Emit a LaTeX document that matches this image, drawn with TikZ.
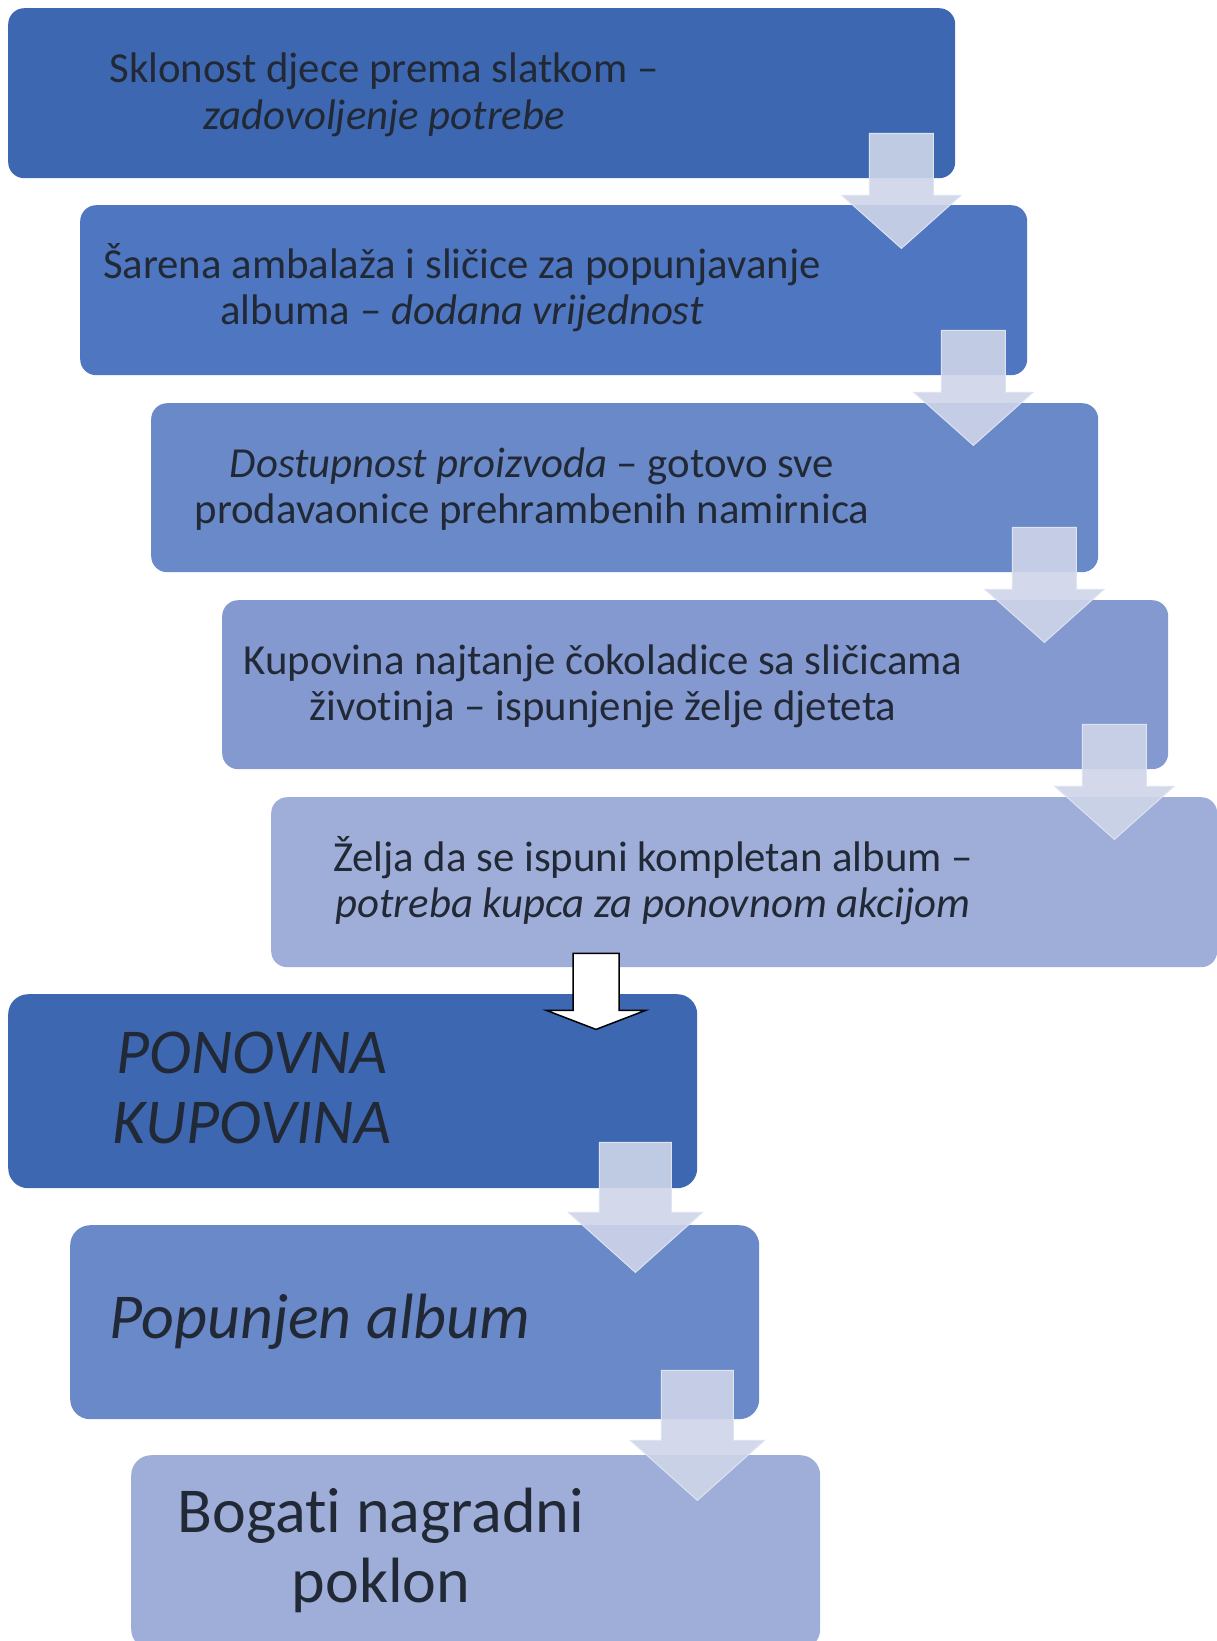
\documentclass[tikz,border=0pt]{standalone}
\usepackage{fontspec}
\setmainfont{Carlito}[Ligatures=NoCommon]
\usetikzlibrary{calc}
\definecolor{cA}{RGB}{61,104,177}
\definecolor{cB}{RGB}{79,118,192}
\definecolor{cC}{RGB}{106,137,200}
\definecolor{cD}{RGB}{133,153,209}
\definecolor{cE}{RGB}{159,174,216}
\definecolor{txt}{RGB}{34,41,54}
\definecolor{arrfill}{RGB}{206,213,233}
\definecolor{arredge}{RGB}{222,227,241}
\tikzset{
  box/.style={rectangle, rounded corners=16pt, inner sep=0pt, anchor=north west, draw=none},
  bigbox/.style={box, rounded corners=20pt},
  small/.style={anchor=base, inner sep=0pt, text=txt, font=\fontsize{42.8}{46.5}\selectfont},
  big/.style={anchor=base, inner sep=0pt, text=txt, font=\fontsize{64}{70}\selectfont},
  pics/barrow/.style n args={4}{code={
    \path[fill=arrfill, fill opacity=0.9, draw=arredge, line width=1pt, line join=miter]
      (-#1,0) -- (#1,0) -- (#1,#3) -- (#2,#3) -- (0,#3+#4) -- (-#2,#3) -- (-#1,#3) -- cycle;
  }},
  pics/warrow/.style n args={4}{code={
    \path[fill=white, draw=black, line width=1.5pt, line join=miter]
      (-#1,0) -- (#1,0) -- (#1,#3) -- (#2,#3) -- (0,#3+#4) -- (-#2,#3) -- (-#1,#3) -- cycle;
  }}
}
\begin{document}
\begin{tikzpicture}[x=1pt, y=-1pt]
\useasboundingbox (0,0) rectangle (1217,1641);
\begin{scope}
\clip (0,0) rectangle (1217,1641);
% boxes
\node[box, fill=cA, minimum width=947pt, minimum height=170pt] (b1) at (8,8) {};
\node[box, fill=cB, minimum width=947pt, minimum height=170pt] (b2) at (80,205) {};
\node[box, fill=cC, minimum width=947pt, minimum height=169pt] (b3) at (151,403) {};
\node[box, fill=cD, minimum width=946pt, minimum height=169pt] (b4) at (222,600) {};
\node[box, fill=cE, minimum width=946pt, minimum height=170pt] (b5) at (271,797) {};
\node[bigbox, fill=cA, minimum width=689pt, minimum height=194pt] (b6) at (8,994) {};
\node[bigbox, fill=cC, minimum width=689pt, minimum height=194pt] (b7) at (70,1225) {};
\node[bigbox, fill=cE, minimum width=689pt, minimum height=194pt] (b8) at (131,1455) {};

% texts
\node[small] (t1a) at (384,82) {Sklonost djece prema slatkom –};
\node[small] (t1b) at (384,129) {\itshape zadovoljenje potrebe};
\node[small] (t2a) at (462,278) {Šarena ambalaža i sličice za popunjavanje};
\node[small] (t2b) at (462,324) {albuma – \itshape dodana vrijednost};
\node[small] (t3a) at (532,477) {\itshape Dostupnost proizvoda\upshape{} – gotovo sve};
\node[small] (t3b) at (532,523) {prodavaonice prehrambenih namirnica};
\node[small] (t4a) at (603,674) {Kupovina najtanje čokoladice sa sličicama};
\node[small] (t4b) at (603,720) {životinja – ispunjenje želje djeteta};
\node[small] (t5a) at (653,871) {Želja da se ispuni kompletan album –};
\node[small] (t5b) at (653,917) {\itshape potreba kupca za ponovnom akcijom};
\node[big] (t6a) at (252,1073) {\itshape PONOVNA};
\node[big] (t6b) at (252,1143) {\itshape KUPOVINA};
\node[big] (t7) at (320,1338) {\itshape Popunjen album};
\node[big] (t8a) at (381,1532) {Bogati nagradni};
\node[big] (t8b) at (381,1602) {poklon};

% arrows
\pic at ($(b1.south east)+(-54,-45)$) {barrow={32}{59.5}{62}{53}};
\pic at ($(b2.south east)+(-54,-45)$) {barrow={32}{59.5}{62}{53}};
\pic at ($(b3.south east)+(-54,-45)$) {barrow={32}{59.5}{62}{53}};
\pic at ($(b4.south east)+(-54,-45)$) {barrow={32}{59.5}{62}{53}};
\pic at ($(b5.south west)+(325,-14)$) {warrow={23}{49.5}{57}{19}};
\pic at ($(b6.south east)+(-62,-46)$) {barrow={36}{67}{70}{60}};
\pic at ($(b7.south east)+(-62,-49)$) {barrow={36}{67}{70}{60}};
\end{scope}
\end{tikzpicture}
\end{document}
